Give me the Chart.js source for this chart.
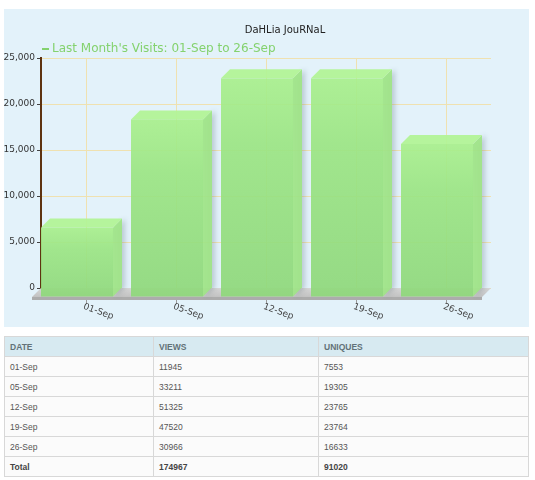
<!DOCTYPE html>
<html>
<head>
<meta charset="utf-8">
<script src="https://cdn.jsdelivr.net/npm/chart.js@4.4.0/dist/chart.umd.min.js"></script>
<style>
  body { margin: 0; width: 535px; height: 480px; background: #fff; position: relative; overflow: hidden; }
  #panel { position: absolute; left: 4px; top: 9px; width: 525px; height: 318px; background: #e3f2fa; }
  #report { position: absolute; left: 4px; top: 336px; width: 524px; border-collapse: collapse;
    font-family: "Liberation Sans", Arial, sans-serif; font-size: 8.5px; color: #555; table-layout: fixed; }
  #report th, #report td { border: 1px solid #d8d8d8; text-align: left; padding: 0 0 0 5px; height: 19px; }
  #report td { background: #fbfbfb; }
  #report th { background: #d7eaf1; color: #637278; font-weight: bold; }
  #report tr.total td { font-weight: bold; color: #444; }
</style>
</head>
<body>
<div id="panel"><canvas id="visitsChart" width="525" height="318"></canvas></div>
<table id="report">
  <colgroup><col style="width:149px"><col style="width:165px"><col style="width:210px"></colgroup>
  <thead><tr><th>DATE</th><th>VIEWS</th><th>UNIQUES</th></tr></thead>
  <tbody id="reportBody"></tbody>
</table>
<script>
const dates = ["01-Sep", "05-Sep", "12-Sep", "19-Sep", "26-Sep"];
const views = [11945, 33211, 51325, 47520, 30966];
const uniques = [7553, 19305, 23765, 23764, 16633];
const yTicks = [0, 5000, 10000, 15000, 20000, 25000];
const chartTitle = "DaHLia JouRNaL";
const seriesLabel = "Last Month's Visits: 01-Sep to 26-Sep";

const DEPTH = 9; // 3d offset of the bars and floor

// table under the chart
const body = document.getElementById("reportBody");
dates.forEach((d, i) => {
  const tr = document.createElement("tr");
  tr.innerHTML = `<td>${d}</td><td>${views[i]}</td><td>${uniques[i]}</td>`;
  body.appendChild(tr);
});
const sum = arr => arr.reduce((a, b) => a + b, 0);
const totalRow = document.createElement("tr");
totalRow.className = "total";
totalRow.innerHTML = `<td>Total</td><td>${sum(views)}</td><td>${sum(uniques)}</td>`;
body.appendChild(totalRow);

// grey slab under the bars
const floorPlugin = {
  id: "floor",
  beforeDatasetsDraw(chart) {
    const { ctx, chartArea: a, scales: { y } } = chart;
    const base = y.getPixelForValue(0);
    ctx.save();
    const g = ctx.createLinearGradient(0, base, 0, base + DEPTH);
    g.addColorStop(0, "#d6d6d6");
    g.addColorStop(1, "#c2c2c2");
    ctx.fillStyle = g;
    ctx.beginPath();
    ctx.moveTo(a.left, base);
    ctx.lineTo(a.right, base);
    ctx.lineTo(a.right - DEPTH, base + DEPTH);
    ctx.lineTo(a.left - DEPTH, base + DEPTH);
    ctx.closePath();
    ctx.fill();
    ctx.fillStyle = "#acacac";
    ctx.fillRect(a.left - DEPTH, base + DEPTH, a.right - a.left, 3);
    ctx.restore();
  }
};

// 3d bars drawn from the bar elements that Chart.js positioned
const bar3dPlugin = {
  id: "bar3d",
  afterDatasetsDraw(chart) {
    const { ctx } = chart;
    const meta = chart.getDatasetMeta(0);
    meta.data.forEach(bar => {
      const { x, y, base, width } = bar.getProps(["x", "y", "base", "width"], true);
      const l = x - width / 2, r = x + width / 2;
      const fl = l - DEPTH, fr = r - DEPTH, ft = y + DEPTH, fb = base + DEPTH;
      ctx.save();
      ctx.globalAlpha = 0.93;
      // soft shadow on the right
      ctx.shadowColor = "rgba(70, 90, 100, 0.28)";
      ctx.shadowBlur = 5;
      ctx.shadowOffsetX = 3;
      ctx.fillStyle = "#9fe487";
      ctx.beginPath();
      ctx.moveTo(fr, ft); ctx.lineTo(r, y); ctx.lineTo(r, base); ctx.lineTo(fr, fb);
      ctx.closePath();
      ctx.fill();
      ctx.shadowColor = "transparent";
      // top face
      ctx.fillStyle = "#b2f494";
      ctx.beginPath();
      ctx.moveTo(fl, ft); ctx.lineTo(l, y); ctx.lineTo(r, y); ctx.lineTo(fr, ft);
      ctx.closePath();
      ctx.fill();
      // front face
      const g = ctx.createLinearGradient(0, ft, 0, fb);
      g.addColorStop(0, "#a9ef8d");
      g.addColorStop(0.3, "#9ce584");
      g.addColorStop(1, "#8fd87b");
      ctx.fillStyle = g;
      ctx.fillRect(fl, ft, width, fb - ft);
      ctx.restore();
    });
  }
};

// title, legend line and slanted category labels
const textPlugin = {
  id: "texts",
  afterDraw(chart) {
    const { ctx, scales: { x } } = chart;
    ctx.save();
    ctx.fillStyle = "#222";
    ctx.font = '10px "DejaVu Sans"';
    ctx.textAlign = "center";
    ctx.textBaseline = "middle";
    ctx.fillText(chartTitle, 281, 21);

    ctx.fillStyle = "#84d26e";
    ctx.fillRect(38, 39, 7, 2);
    ctx.font = '12px "DejaVu Sans"';
    ctx.textAlign = "left";
    ctx.fillText(seriesLabel, 48, 40);

    ctx.fillStyle = "#444";
    ctx.font = '9px "DejaVu Sans"';
    ctx.textBaseline = "top";
    dates.forEach((d, i) => {
      const px = x.getPixelForValue(i);
      ctx.save();
      ctx.translate(px - 1, 293);
      ctx.rotate(20 * Math.PI / 180);
      ctx.fillText(d, 0, 0);
      ctx.restore();
    });
    ctx.restore();
  }
};

new Chart(document.getElementById("visitsChart"), {
  type: "bar",
  data: {
    labels: dates,
    datasets: [{
      label: seriesLabel,
      data: uniques,
      backgroundColor: "rgba(0,0,0,0)",
      borderWidth: 0,
      barPercentage: 0.8,
      categoryPercentage: 1
    }]
  },
  options: {
    responsive: false,
    animation: false,
    layout: { padding: { top: 49, right: 38, bottom: 0, left: 0 } },
    plugins: { legend: { display: false }, title: { display: false }, tooltip: { enabled: false } },
    scales: {
      x: {
        offset: true,
        grid: { offset: false, color: "#efe1b0", drawTicks: true, tickLength: 16, tickColor: "#9a9a9a" },
        border: { display: false },
        ticks: { display: false },
        afterFit: s => { s.height = 39; }
      },
      y: {
        min: 0,
        max: 25000,
        afterBuildTicks: s => { s.ticks = yTicks.map(v => ({ value: v })); },
        grid: { color: "#efe1b0", tickLength: 4, tickColor: "#444" },
        border: { color: "#5e3310", width: 2 },
        ticks: {
          padding: 2,
          color: "#333",
          font: { family: "DejaVu Sans", size: 9 },
          callback: v => v.toLocaleString("en-US")
        },
        afterFit: s => { s.width = 37; }
      }
    }
  },
  plugins: [floorPlugin, bar3dPlugin, textPlugin]
});
</script>
</body>
</html>
